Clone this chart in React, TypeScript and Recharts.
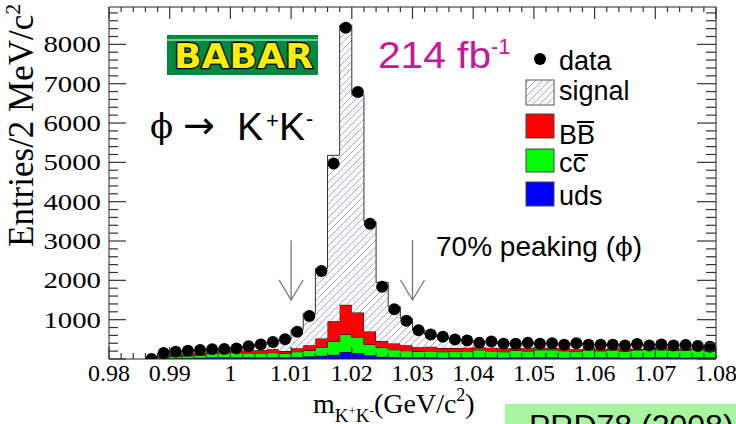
import React from "react"
import {
  ComposedChart,
  Area,
  Scatter,
  XAxis,
  YAxis,
  ReferenceLine,
} from "recharts"

// bin centres (2 MeV bins), m(K+K-) in GeV/c^2
const MASS = [
  0.987, 0.989, 0.991, 0.993, 0.995, 0.997, 0.999, 1.001, 1.003, 1.005, 1.007, 1.009,
  1.011, 1.013, 1.015, 1.017, 1.019, 1.021, 1.023, 1.025, 1.027, 1.029, 1.031, 1.033,
  1.035, 1.037, 1.039, 1.041, 1.043, 1.045, 1.047, 1.049, 1.051, 1.053, 1.055, 1.057,
  1.059, 1.061, 1.063, 1.065, 1.067, 1.069, 1.071, 1.073, 1.075, 1.077, 1.079,
]

const DATA = [
  0, 150, 185, 210, 228, 250, 255, 270, 325, 370, 435, 505,
  695, 1095, 2240, 4970, 8420, 6790, 3440, 1840, 1265, 975, 730, 625,
  565, 495, 470, 410, 445, 385, 390, 410, 390, 400, 360, 400,
  360, 360, 360, 345, 380, 345, 370, 345, 355, 330, 310,
]

const UDS = [
  0, 10, 15, 22, 30, 40, 40, 35, 35, 35, 35, 35,
  42, 65, 80, 105, 175, 150, 90, 55, 45, 38, 38, 35,
  32, 35, 35, 38, 35, 32, 35, 35, 38, 35, 32, 35,
  35, 38, 35, 32, 35, 35, 38, 35, 32, 35, 35,
]

const CCBAR = [
  0, 45, 53, 54, 70, 110, 120, 125, 117, 117, 125, 110,
  143, 150, 220, 345, 450, 405, 280, 235, 190, 172, 157, 169,
  152, 152, 169, 194, 169, 152, 185, 169, 194, 194, 175, 152,
  194, 169, 194, 169, 194, 211, 194, 185, 194, 236, 169,
]

const BBBAR = [
  0, 30, 42, 60, 61, 45, 60, 60, 68, 68, 86, 58,
  90, 135, 220, 508, 755, 625, 330, 168, 160, 140, 102, 110,
  93, 93, 84, 68, 84, 84, 60, 67, 59, 51, 65, 59,
  42, 50, 42, 67, 25, 42, 68, 51, 42, 34, 50,
]

const SIGNAL = [
  0, 60, 70, 70, 65, 55, 40, 50, 100, 150, 190, 300,
  475, 810, 1780, 4220, 7110, 5530, 2790, 1490, 935, 680, 440, 310,
  280, 220, 180, 125, 150, 120, 110, 135, 100, 120, 90, 150,
  95, 105, 90, 80, 120, 60, 70, 75, 85, 30, 60,
]

const X_MAJOR = [0.98, 0.99, 1, 1.01, 1.02, 1.03, 1.04, 1.05, 1.06, 1.07, 1.08]
const Y_MAJOR = [0, 1000, 2000, 3000, 4000, 5000, 6000, 7000, 8000]
const X_DOMAIN = [0.98, 1.08]
const Y_DOMAIN = [0, 8950]

// signal window arrows
const ARROW_X = [1.01, 1.03]
const ARROW_Y = [3020, 1500]

const HALF_BIN = 0.001
const AXIS = "#222"
const TICK = "#333"

// plot frame size in px (chart 736x424 minus margins and axes)
const PLOT_W = 607
const PLOT_H = 352

// histogram table at bin low edges, last row closes the final bin
const table = MASS.map((m, i) => ({
  x: Math.round((m - HALF_BIN) * 10000) / 10000,
  uds: UDS[i],
  cc: CCBAR[i],
  bb: BBBAR[i],
  sig: SIGNAL[i],
}))
const last = MASS.length - 1
table.push({
  x: Math.round((MASS[last] + HALF_BIN) * 10000) / 10000,
  uds: UDS[last],
  cc: CCBAR[last],
  bb: BBBAR[last],
  sig: SIGNAL[last],
})

const points = MASS.map((m, i) => ({ x: m, y: DATA[i] }))

const xTicks: number[] = []
for (let k = 0; k <= 50; k++) xTicks.push(Math.round((0.98 + 0.002 * k) * 1000) / 1000)
const yTicks: number[] = []
for (let k = 0; k <= 44; k++) yTicks.push(k * 200)

const isMajorX = (v: number) => X_MAJOR.some((m) => Math.abs(m - v) < 1e-6)
const isMajorY = (v: number) => Y_MAJOR.includes(v)

// bottom axis tick, also draws the matching tick on the top frame
const BottomTick = (props: any) => {
  const { x, y, payload } = props
  const major = isMajorX(payload.value)
  const top = y - PLOT_H
  return (
    <g>
      <path d={`M${x},${y}V${y - (major ? 12 : 6)}`} stroke={TICK} strokeWidth={1.2} />
      <path d={`M${x},${top}V${top + (major ? 12 : 5)}`} stroke={TICK} strokeWidth={1.2} />
      {major && (
        <text
          x={x}
          y={y + 22}
          textAnchor="middle"
          fontFamily="Liberation Serif"
          fontSize={24}
          fill="#000"
        >
          {String(payload.value)}
        </text>
      )}
    </g>
  )
}

// left axis tick, also draws the matching tick on the right frame
const LeftTick = (props: any) => {
  const { x, y, payload } = props
  const major = isMajorY(payload.value)
  const right = x + PLOT_W
  return (
    <g>
      <path d={`M${x},${y}H${x + (major ? 17 : 9)}`} stroke={TICK} strokeWidth={1.2} />
      <path d={`M${right},${y}H${right - (major ? 19 : 10)}`} stroke={TICK} strokeWidth={1.2} />
      {major && payload.value > 0 && (
        <text
          transform={`translate(${x - 8},${y + 8}) scale(1.2,1)`}
          textAnchor="end"
          fontFamily="Liberation Serif"
          fontSize={24}
          fill="#000"
        >
          {payload.value}
        </text>
      )}
    </g>
  )
}

const Arrow = (props: any) => {
  const { x1, y1, x2, y2 } = props
  return (
    <g stroke="#777" strokeWidth={1.3} fill="none">
      <line x1={x1} y1={y1} x2={x2} y2={y2} />
      <polyline points={`${x2 - 12},${y2 - 20} ${x2},${y2} ${x2 + 12},${y2 - 20}`} />
    </g>
  )
}

const Dot = (props: any) => <circle cx={props.cx} cy={props.cy} r={6} fill="#000" />

const sans = "Liberation Sans"

export default function App() {
  return (
    <div style={{ position: "fixed", left: 0, top: 0, width: 736, height: 424, background: "#fff" }}>
      <svg width={0} height={0} style={{ position: "absolute" }}>
        <defs>
          <pattern id="hatch" patternUnits="userSpaceOnUse" width={7} height={7}>
            <rect width={7} height={7} fill="#fff" />
            <path d="M-1,1 l2,-2 M0,7 l7,-7 M6,8 l2,-2" stroke="#a6a6e6" strokeWidth={1} />
          </pattern>
        </defs>
      </svg>

      <ComposedChart
        width={736}
        height={424}
        data={table}
        margin={{ top: 7, right: 20, bottom: 35, left: 49 }}
      >
        <XAxis
          dataKey="x"
          type="number"
          domain={X_DOMAIN}
          allowDataOverflow
          ticks={xTicks}
          interval={0}
          tickSize={0}
          tickMargin={0}
          tickLine={false}
          tick={<BottomTick />}
          axisLine={{ stroke: AXIS }}
          height={30}
        />
        <YAxis
          type="number"
          domain={Y_DOMAIN}
          allowDataOverflow
          ticks={yTicks}
          interval={0}
          tickSize={0}
          tickMargin={0}
          tickLine={false}
          tick={<LeftTick />}
          axisLine={{ stroke: AXIS }}
          width={60}
        />

        <Area
          type="stepAfter"
          dataKey="uds"
          stackId="mc"
          fill="#0000ff"
          fillOpacity={1}
          stroke="#000"
          strokeWidth={1}
          dot={false}
          activeDot={false}
          isAnimationActive={false}
        />
        <Area
          type="stepAfter"
          dataKey="cc"
          stackId="mc"
          fill="#00ff00"
          fillOpacity={1}
          stroke="#000"
          strokeWidth={1}
          dot={false}
          activeDot={false}
          isAnimationActive={false}
        />
        <Area
          type="stepAfter"
          dataKey="bb"
          stackId="mc"
          fill="#ff0000"
          fillOpacity={1}
          stroke="#000"
          strokeWidth={1}
          dot={false}
          activeDot={false}
          isAnimationActive={false}
        />
        <Area
          type="stepAfter"
          dataKey="sig"
          stackId="mc"
          fill="url(#hatch)"
          fillOpacity={1}
          stroke="#333"
          strokeWidth={1}
          dot={false}
          activeDot={false}
          isAnimationActive={false}
        />

        {/* top and right frame lines */}
        <ReferenceLine y={Y_DOMAIN[1]} stroke={AXIS} ifOverflow="visible" />
        <ReferenceLine x={X_DOMAIN[1]} stroke={AXIS} ifOverflow="visible" />

        {ARROW_X.map((ax) => (
          <ReferenceLine
            key={ax}
            segment={[
              { x: ax, y: ARROW_Y[0] },
              { x: ax, y: ARROW_Y[1] },
            ]}
            shape={<Arrow />}
          />
        ))}

        <Scatter
          data={points}
          dataKey="y"
          shape={<Dot />}
          isAnimationActive={false}
        />
      </ComposedChart>

      <svg
        width={736}
        height={424}
        style={{ position: "absolute", left: 0, top: 0, pointerEvents: "none" }}
      >
        {/* axis titles */}
        <text
          transform="translate(33,247) rotate(-90)"
          fontFamily="Liberation Serif"
          fontSize={35}
          fill="#000"
        >
          Entries/2 MeV/c<tspan dy={-13} fontSize={22}>2</tspan>
        </text>
        <text x={313} y={413} fontFamily="Liberation Serif" fontSize={28} fill="#000">
          m<tspan fontSize={19} dy={9}>K</tspan>
          <tspan fontSize={13} dy={-7}>+</tspan>
          <tspan fontSize={19} dy={7}>K</tspan>
          <tspan fontSize={13} dy={-7}>-</tspan>
          <tspan fontSize={28} dy={-2}>(GeV/c</tspan>
          <tspan fontSize={18} dy={-12}>2</tspan>
          <tspan fontSize={28} dy={12}>)</tspan>
        </text>

        {/* BABAR logo */}
        <rect x={167} y={35} width={151} height={40} fill="#00883c" />
        <line x1={167} y1={40} x2={318} y2={40} stroke="#fff" strokeWidth={1} />
        <text
          x={174}
          y={68}
          fontFamily="DejaVu Sans"
          fontWeight="bold"
          fontSize={34}
          textLength={139}
          lengthAdjust="spacingAndGlyphs"
          fill="#ffee00"
          stroke="#000"
          strokeWidth={2.5}
          paintOrder="stroke"
        >
          BABAR
        </text>

        <text x={378} y={68} fontFamily={sans} fontSize={37} fill="#c8169c">
          <tspan textLength={113} lengthAdjust="spacingAndGlyphs">214 fb</tspan>
          <tspan fontSize={22} dy={-14}>-1</tspan>
        </text>

        {/* phi -> K+K- */}
        <text x={150} y={138} fontFamily="DejaVu Serif" fontSize={34} fill="#000">ϕ</text>
        <text x={183} y={138} fontFamily="DejaVu Sans" fontSize={38} fill="#000">→</text>
        <text x={237} y={140} fontFamily={sans} fontSize={39} fill="#000">K</text>
        <text x={266} y={128} fontFamily={sans} fontSize={22} fill="#000">+</text>
        <text x={279} y={140} fontFamily={sans} fontSize={39} fill="#000">K</text>
        <text x={306} y={126} fontFamily={sans} fontSize={22} fill="#000">-</text>

        <text x={436} y={256} fontFamily={sans} fontSize={28} fill="#000">
          70% peaking (<tspan fontFamily="DejaVu Serif" fontSize={26}>ϕ</tspan>)
        </text>

        {/* legend */}
        <circle cx={540} cy={59} r={6} fill="#000" />
        <text x={559} y={70} fontFamily={sans} fontSize={27} fill="#000">data</text>
        <rect x={526} y={80} width={28} height={25} fill="url(#hatch)" stroke="#555" />
        <text x={559} y={100} fontFamily={sans} fontSize={27} fill="#000">signal</text>
        <rect x={526} y={114} width={28} height={24} fill="#ff0000" stroke="#444" />
        <text x={559} y={144} fontFamily={sans} fontSize={27} fill="#000">BB</text>
        <line x1={577} y1={122} x2={594} y2={122} stroke="#000" strokeWidth={2} />
        <rect x={526} y={149} width={28} height={23} fill="#00ff00" stroke="#444" />
        <text x={559} y={172} fontFamily={sans} fontSize={27} fill="#000">cc</text>
        <line x1={574} y1={155} x2={588} y2={155} stroke="#000" strokeWidth={2} />
        <rect x={526} y={182} width={28} height={24} fill="#0000ff" stroke="#444" />
        <text x={559} y={205} fontFamily={sans} fontSize={27} fill="#000">uds</text>

        {/* reference tag */}
        <rect x={505} y={404} width={231} height={20} fill="#a8f5a0" />
        <text x={529} y={437} fontFamily={sans} fontSize={32} fill="#000">PRD78 (2008)</text>
      </svg>
    </div>
  )
}
